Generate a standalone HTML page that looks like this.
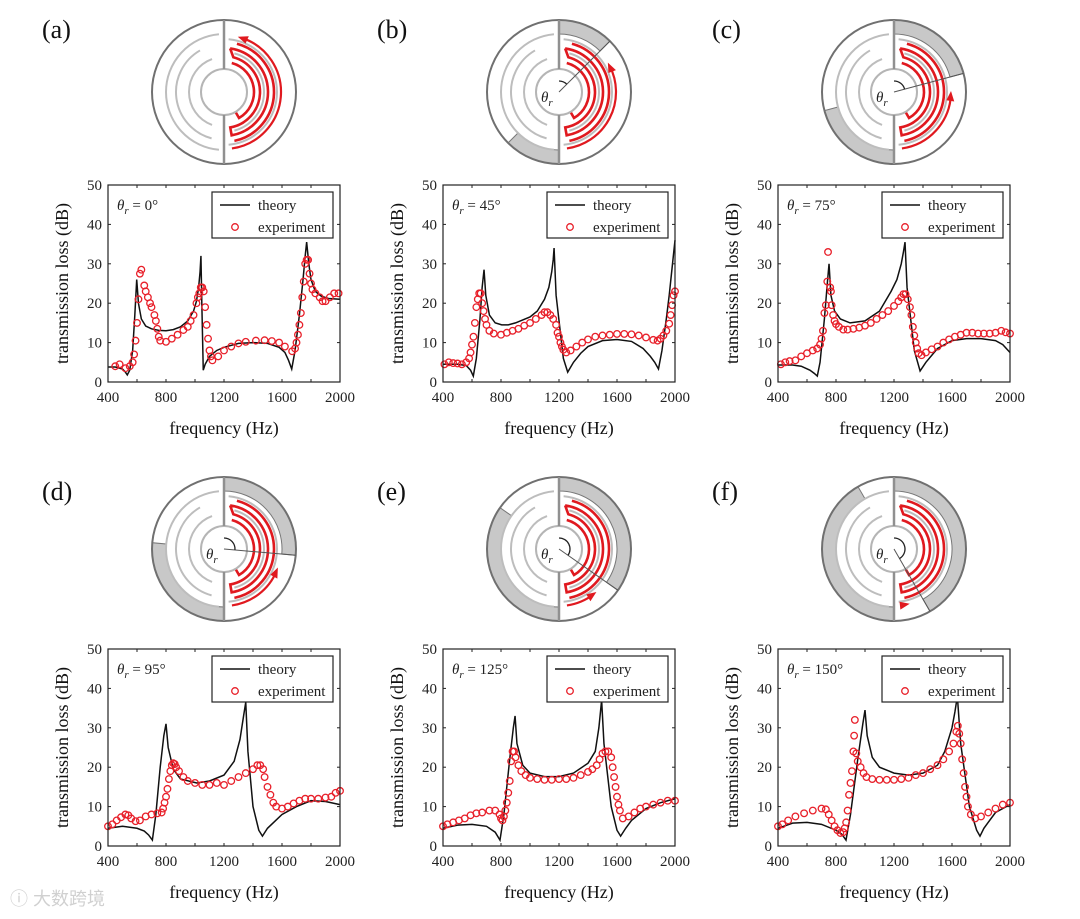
<!DOCTYPE html>
<html><head><meta charset="utf-8">
<style>
html,body{margin:0;padding:0;background:#fff;}
svg{display:block;font-family:"Liberation Serif","DejaVu Serif",serif;}
</style></head>
<body>
<svg id="fig" width="1080" height="919" viewBox="0 0 1080 919" xmlns="http://www.w3.org/2000/svg"></svg>
<script>
// Panel (a) θr = 0°
const thFreqA=[400,450,500,520,533,550,570,585,598,610,630,660,700,750,800,850,900,950,990,1010,1025,1035,1041,1047,1057,1070,1100,1150,1200,1300,1400,1500,1580,1620,1645,1667,1690,1720,1745,1760,1770,1785,1800,1830,1870,1920,2000];
const thValA=[3.8,3.8,3.3,2.5,1.8,3,8,17,26,20,16,14.2,13.5,13.1,13,13.3,14,15.5,18,20.5,24,28,32,20,3,4.5,6.5,8,8.8,9.8,10,9.8,8.8,7.5,5.5,3.3,8,17,26,32,35.5,30,26,23,21.8,21.2,21];
const exFreqA=[450,480,520,550,570,580,590,600,610,620,630,650,660,675,690,700,720,730,740,750,760,800,840,880,920,950,970,990,1010,1020,1030,1040,1050,1060,1070,1080,1090,1100,1110,1120,1160,1200,1250,1300,1350,1420,1480,1530,1580,1620,1670,1690,1700,1710,1720,1730,1740,1750,1760,1770,1780,1790,1800,1810,1830,1860,1880,1900,1930,1960,1990];
const exValA=[4,4.5,3.5,4,5,7,10.5,15,21,27.5,28.5,24.5,23,21.5,20,19,17,15.5,13.5,11.5,10.5,10.2,11,12,13.2,14,15.5,17,20,21.5,22.5,24,24,23,19,14.5,11,8,6.5,5.5,6.5,8,9,9.8,10.2,10.5,10.6,10.4,10,9,7.8,8.5,10,12,14.5,17.5,21.5,25.5,30,31,31,27.5,25,23.5,22.5,21.5,20.5,20.5,21.5,22.5,22.5];
// Panel (b) θr = 45°
const thFreqB=[400,500,560,590,609,630,655,670,683,695,720,760,805,850,900,1000,1050,1100,1130,1150,1160,1166,1180,1230,1260,1300,1350,1400,1500,1600,1700,1780,1830,1860,1886,1910,1940,1960,1980,2000];
const thValB=[4.5,4.5,4.2,3,1.5,6,16,24,28.5,22,17,15,14.5,14.5,15,16.5,18,21,24,28,31,34,22,6,2.5,5,7.3,9,10.5,10.8,10.3,8.5,6.5,5,3.3,8,16,22,29,36];
const exFreqB=[410,440,470,500,530,560,580,590,600,610,620,630,640,650,660,670,680,690,700,720,750,800,840,880,920,960,1000,1040,1080,1100,1120,1140,1160,1180,1190,1200,1210,1220,1230,1250,1280,1320,1360,1400,1450,1500,1550,1600,1650,1700,1750,1800,1850,1880,1900,1920,1940,1960,1970,1980,1990,2000];
const exValB=[4.5,5,4.8,4.7,4.5,5,6,7.5,9.5,11.5,15,19,21,22.5,22.5,20,18,16,14.5,13,12.3,12,12.5,13,13.5,14.3,15,16,17,17.7,17.7,17,16,14.5,12.5,11.5,10,9,8.2,7.5,8,9,10,10.8,11.5,11.8,12,12.2,12.2,12.1,11.8,11.3,10.7,10.5,11,11.8,13,14.8,17,19.5,22,23];
// Panel (c) θr = 75°
const thFreqC=[400,500,560,620,650,671,690,720,740,752,765,790,830,897,1000,1100,1180,1220,1250,1265,1276,1290,1340,1380,1420,1500,1600,1700,1800,1900,1950,2000];
const thValC=[4.3,4.3,4,3,2.2,1.5,5,16,25,30,22,18,16,15,15.5,18,23,26,30,33,35.5,24,8,2.8,5,8.5,10.5,11,11,10.5,9.5,7.5];
const exFreqC=[420,450,480,520,560,600,640,670,690,700,710,720,730,740,745,760,765,770,780,790,800,820,850,880,920,960,1000,1040,1080,1120,1160,1200,1230,1250,1265,1280,1295,1310,1320,1330,1340,1350,1360,1370,1390,1420,1460,1500,1540,1580,1620,1660,1700,1740,1780,1820,1860,1900,1940,1970,2000];
const exValC=[4.5,5,5.3,5.5,6.5,7.3,8,8.5,9.5,11,13,17.5,19.5,25.5,33,24,23,19.5,17,15.5,14.7,14,13.3,13.3,13.5,13.8,14.3,15,16,17,18,19.3,20.5,21.5,22.3,22.3,21,19,17,14,11.8,10,8.5,7.3,6.8,7.5,8.3,9,10,10.8,11.5,12,12.5,12.5,12.3,12.3,12.3,12.5,13,12.6,12.3];
// Panel (d) θr = 95°
const thFreqD=[400,500,600,650,680,706,730,760,785,800,815,850,900,1012,1100,1200,1270,1310,1335,1350,1365,1400,1440,1465,1500,1600,1700,1800,1900,2000];
const thValD=[4.5,5,4.5,3.8,2.8,1.5,8,20,28,31,25,19.5,17,16,16.5,18,21.5,27,33,36.5,24,10,4,2.5,4.5,8,10,11.5,11.3,10.5];
const exFreqD=[400,430,460,490,520,540,560,590,620,660,700,740,770,780,790,800,810,820,830,840,850,860,870,890,920,950,1000,1050,1100,1150,1200,1250,1300,1350,1400,1430,1450,1470,1480,1500,1520,1540,1560,1600,1640,1680,1720,1760,1800,1850,1900,1940,1970,2000];
const exValD=[5,5.5,6.5,7.3,8,7.8,7,6.3,6.5,7.5,8,8.3,8.5,9.5,11,12.5,14.5,17,19,20.5,21,20.8,20,19,17.5,16.5,16,15.5,15.5,16,15.5,16.5,17.5,18.5,19.5,20.5,20.5,19.5,17.5,15,13,11,10,9.5,10,10.8,11.5,12,12,12,12.3,12.5,13.5,14];
// Panel (e) θr = 125°
const thFreqE=[400,500,600,700,760,793,820,860,885,897,910,950,1000,1100,1200,1300,1400,1450,1475,1494,1510,1560,1600,1625,1660,1700,1800,1900,2000];
const thValE=[4.5,5.3,5.5,5,3.5,1.5,8,22,30,33,26,20.5,18.5,17.6,17.6,18.5,21,24,30,37,26,10,4,2.5,4.5,6.5,9.5,11,12];
const exFreqE=[400,430,470,510,550,590,630,670,720,760,790,800,810,820,830,840,850,860,870,880,890,900,920,940,970,1000,1050,1100,1150,1200,1250,1300,1350,1400,1430,1460,1480,1500,1520,1540,1560,1570,1580,1590,1600,1610,1620,1640,1680,1720,1760,1800,1850,1900,1950,2000];
const exValE=[5,5.5,6,6.5,7,7.8,8.3,8.5,9,9,8,7,6.5,7.5,9,11,13.5,16.5,21.5,24,24,22.5,20.5,19,18,17.3,17,16.8,16.8,17,17,17.3,18,18.8,19.5,20.5,22,23.5,24,24,22.5,20,17.5,15,12.5,10.5,9,7,7.5,8.5,9.5,10,10.5,11,11.5,11.5];
// Panel (f) θr = 150°
const thFreqF=[400,500,600,700,800,840,869,900,950,985,1000,1015,1050,1100,1200,1300,1400,1500,1550,1600,1620,1637,1660,1720,1770,1793,1820,1850,1900,2000];
const thValF=[4.5,5.8,6,5.5,4,3,1.5,8,22,31,34.5,28,22.5,20,18.5,18,18.5,20.5,24,30,34,38,26,10,4,2.5,4.5,6,8.5,10.5];
const exFreqF=[400,430,470,520,580,640,700,730,750,770,790,810,830,850,860,870,880,890,900,910,920,925,930,940,950,970,990,1010,1050,1100,1150,1200,1250,1300,1350,1400,1450,1500,1540,1580,1610,1630,1640,1650,1660,1670,1680,1690,1700,1710,1730,1760,1800,1850,1900,1950,2000];
const exValF=[5,5.5,6.5,7.5,8.3,9,9.5,9.3,8,6.5,5,4,3.3,3.5,4.5,6,9,13,16,19,24,28,32,23.5,21.5,20,18.5,17.5,17,16.8,16.8,16.8,17,17.3,18,18.5,19.5,20.5,22,24,26,29,30.5,28.5,26,22,18.5,15,12.5,10,8,7,7.5,8.5,9.5,10.5,11];

const panelLabels=["(a)","(b)","(c)","(d)","(e)","(f)"];
const thetas=[0,45,75,95,125,150];
const xTicks=[400,800,1200,1600,2000];
const yTicks=[0,10,20,30,40,50];

const NS="http://www.w3.org/2000/svg";
const svg=document.getElementById('fig');
function el(tag,attrs,parent,text){const e=document.createElementNS(NS,tag);for(const k in attrs)e.setAttribute(k,attrs[k]);if(text!==undefined)e.textContent=text;(parent||svg).appendChild(e);return e;}

const panels=[[thFreqA,thValA,exFreqA,exValA],[thFreqB,thValB,exFreqB,exValB],[thFreqC,thValC,exFreqC,exValC],[thFreqD,thValD,exFreqD,exValD],[thFreqE,thValE,exFreqE,exValE],[thFreqF,thValF,exFreqF,exValF]];

function pt(cx,cy,r,a){const t=a*Math.PI/180;return [cx+r*Math.sin(t),cy-r*Math.cos(t)];}
function arcPath(cx,cy,r,a1,a2){const p1=pt(cx,cy,r,a1),p2=pt(cx,cy,r,a2);const large=Math.abs(a2-a1)>180?1:0;const sw=a2>a1?1:0;return `M${p1[0]},${p1[1]} A${r},${r} 0 ${large} ${sw} ${p2[0]},${p2[1]}`;}
function sector(cx,cy,r1,r2,a1,a2){const o1=pt(cx,cy,r2,a1),o2=pt(cx,cy,r2,a2),i2=pt(cx,cy,r1,a2),i1=pt(cx,cy,r1,a1);const l=(a2-a1)>180?1:0;return `M${o1[0]},${o1[1]} A${r2},${r2} 0 ${l} 1 ${o2[0]},${o2[1]} L${i2[0]},${i2[1]} A${r1},${r1} 0 ${l} 0 ${i1[0]},${i1[1]} Z`;}

function drawIcon(g,cx,cy,th){
  const R=72,Ri=58;
  if(th>0){
    const s1=el('path',{d:sector(cx,cy,Ri,R,0,th),fill:'#c8c8c8',stroke:'#777','stroke-width':1},g);
    
    
    const s2=el('path',{d:sector(cx,cy,Ri,R,180,180+th),fill:'#c8c8c8',stroke:'#777','stroke-width':1},g);
    
    
  }
  el('circle',{cx:cx,cy:cy,r:R,fill:'none',stroke:'#707070','stroke-width':2},g);
  el('circle',{cx:cx,cy:cy,r:23,fill:'none',stroke:'#b5b5b5','stroke-width':2},g);
  el('line',{x1:cx,y1:cy-R,x2:cx,y2:cy-23,stroke:'#909090','stroke-width':2.5},g);
  el('line',{x1:cx,y1:cy+23,x2:cx,y2:cy+R,stroke:'#909090','stroke-width':2.5},g);
  [[35,200,340],[48,195,330],[58,185,355]].forEach(a=>{el('path',{d:arcPath(cx,cy,a[0],a[1],a[2]),fill:'none',stroke:'#bdbdbd','stroke-width':2},g);});
  [[40,15,165],[53,5,175]].forEach(a=>{el('path',{d:arcPath(cx,cy,a[0],a[1],a[2]),fill:'none',stroke:'#bdbdbd','stroke-width':2},g);});
  // red channel shapes
  el('path',{d:arcPath(cx,cy,44,8,170)+' L'+pt(cx,cy,36,170).join(',')+' '+arcPath(cx,cy,36,170,15).slice(1).replace(/^[^A]*/,'')+' L'+pt(cx,cy,44,8).join(','),fill:'none',stroke:'#e0191f','stroke-width':2.6},g);
  el('path',{d:arcPath(cx,cy,30,15,150)+' L'+pt(cx,cy,24,150).join(','),fill:'none',stroke:'#e0191f','stroke-width':2.6},g);
  el('path',{d:arcPath(cx,cy,50,15,168),fill:'none',stroke:'#e0191f','stroke-width':2.6},g);
  // arrow
  const aEnd=Math.max(th+18,12);
  el('path',{d:arcPath(cx,cy,57,172,aEnd),fill:'none',stroke:'#e0191f','stroke-width':2.2},g);
  const tip=pt(cx,cy,57,aEnd-4),b1=pt(cx,cy,53,aEnd+6),b2=pt(cx,cy,61,aEnd+6);
  el('polygon',{points:`${tip[0]},${tip[1]} ${b1[0]},${b1[1]} ${b2[0]},${b2[1]}`,fill:'#e0191f'},g);
  if(th>0){
    const e=pt(cx,cy,R,th);
    el('line',{x1:cx,y1:cy,x2:e[0],y2:e[1],stroke:'#555','stroke-width':1},g);
    el('path',{d:arcPath(cx,cy,11,0,th),fill:'none',stroke:'#222','stroke-width':1.3},g);
    const t=el('text',{x:cx-18,y:cy+10,'font-size':15,'font-style':'italic',fill:'#222'},g,'θ');
    el('tspan',{'font-size':11,dy:4},t,'r');
  }
}

panels.forEach((P,i)=>{
  const col=i%3,row=Math.floor(i/3);
  const x0=108+col*335,y0=185+row*464,W=232,H=197;
  const sx=f=>x0+(f-400)/1600*W, sy=v=>y0+H-v/50*H;
  const g=el('g',{});
  
  
  const lab=el('text',{x:42+col*335,y:38+row*462,'font-size':26,fill:'#111'},g,panelLabels[i]);
  
  
  const ig=el('g',{},g);
  
  
  drawIcon(ig,224+col*335,row?549:92,thetas[i]);
  // theory line
  const tl=el('polyline',{points:P[0].map((f,k)=>sx(f)+','+sy(P[1][k])).join(' '),fill:'none',stroke:'#111','stroke-width':1.5},g);
  
  
  P[2].forEach((f,k)=>{
    const c=el('circle',{cx:sx(f),cy:sy(P[3][k]),r:3.3,fill:'none',stroke:'#e8202a','stroke-width':1.3},g);
    
    
  });
  // frame
  el('rect',{x:x0,y:y0,width:W,height:H,fill:'none',stroke:'#222','stroke-width':1.2},g);
  for(let f=400;f<=2000;f+=200){el('line',{x1:sx(f),y1:y0+H,x2:sx(f),y2:y0+H-3,stroke:'#222'},g);el('line',{x1:sx(f),y1:y0,x2:sx(f),y2:y0+3,stroke:'#222'},g);}
  xTicks.forEach(f=>{const t=el('text',{x:sx(f),y:y0+H+20,'font-size':15,'text-anchor':'middle',fill:'#222'},g,String(f));});
  yTicks.forEach(v=>{
    el('line',{x1:x0,y1:sy(v),x2:x0+3,y2:sy(v),stroke:'#222'},g);
    el('line',{x1:x0+W,y1:sy(v),x2:x0+W-3,y2:sy(v),stroke:'#222'},g);
    const t=el('text',{x:x0-6,y:sy(v)+5,'font-size':15,'text-anchor':'end',fill:'#222'},g,String(v));
    
    
  });
  const xt=el('text',{x:x0+W/2,y:y0+H+52,'font-size':18,'text-anchor':'middle',fill:'#111'},g,'frequency (Hz)');
  
  
  const yt=el('text',{transform:`translate(${x0-40},${y0+H/2}) rotate(-90)`,'font-size':18,'text-anchor':'middle',fill:'#111'},g,'transmission loss (dB)');
  
  
  const ang=el('text',{x:x0+9,y:y0+25,'font-size':15,fill:'#222'},g);
  el('tspan',{'font-style':'italic'},ang,'θ');
  el('tspan',{'font-style':'italic','font-size':11,dy:4},ang,'r');
  el('tspan',{dy:-4},ang,' = '+thetas[i]+'°');
  
  
  // legend
  const lg=el('g',{},g);
  
  
  el('rect',{x:x0+104,y:y0+7,width:121,height:46,fill:'#fff',stroke:'#222','stroke-width':1.2},lg);
  el('line',{x1:x0+112,y1:y0+20,x2:x0+142,y2:y0+20,stroke:'#111','stroke-width':1.5},lg);
  el('text',{x:x0+150,y:y0+25,'font-size':15,fill:'#222'},lg,'theory');
  el('circle',{cx:x0+127,cy:y0+42,r:3.3,fill:'none',stroke:'#e8202a','stroke-width':1.3},lg);
  el('text',{x:x0+150,y:y0+47,'font-size':15,fill:'#222'},lg,'experiment');
});
const wm=el('text',{x:10,y:905,'font-size':18,fill:'#d0d0d0','font-family':'"Liberation Sans","Noto Sans CJK SC",sans-serif'},svg,'ⓘ 大数跨境');


</script>
</body></html>
